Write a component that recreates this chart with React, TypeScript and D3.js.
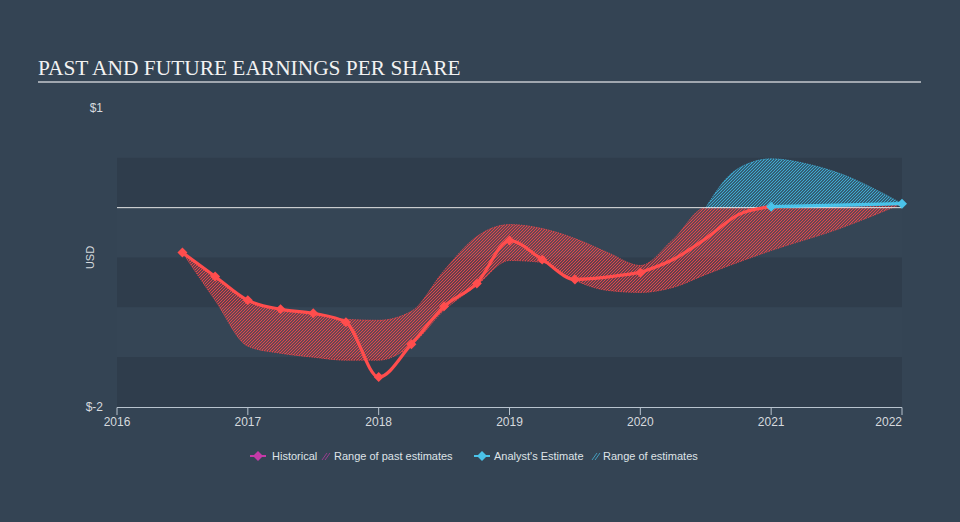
import React from "react";
import * as d3 from "d3";

const histYears = [2016.5, 2016.75, 2017.0, 2017.25, 2017.5, 2017.75, 2018.0, 2018.25, 2018.5, 2018.75, 2019.0, 2019.25, 2019.5, 2020.0];
const histEps = [-0.45, -0.69, -0.93, -1.02, -1.06, -1.15, -1.7, -1.37, -0.99, -0.76, -0.33, -0.52, -0.72, -0.65];

const bridgeYears = [2020.0, 2020.25, 2020.5, 2020.75, 2021.0];
const bridgeEps = [-0.65, -0.52, -0.31, -0.07, 0.01];

const estYears = [2021.0, 2022.0];
const estEps = [0.01, 0.04];

const pastRangeYears = [2016.5, 2016.75, 2017.0, 2017.25, 2017.5, 2017.75, 2018.0, 2018.25, 2018.5, 2018.75, 2019.0, 2019.25, 2019.5, 2019.75, 2020.0, 2020.25, 2020.5, 2021.0, 2021.5, 2022.0];
const pastRangeHigh = [-0.45, -0.69, -0.93, -1.02, -1.06, -1.12, -1.13, -1.04, -0.63, -0.29, -0.17, -0.21, -0.31, -0.45, -0.58, -0.32, 0.0, 0.0, 0.01, 0.04];
const pastRangeLow = [-0.45, -0.93, -1.39, -1.46, -1.5, -1.53, -1.53, -1.38, -1.03, -0.78, -0.53, -0.55, -0.73, -0.83, -0.85, -0.8, -0.67, -0.43, -0.22, 0.04];

const estRangeYears = [2020.5, 2020.67, 2020.84, 2021.0, 2021.3, 2021.55, 2021.8, 2022.0];
const estRangeHigh = [0.0, 0.31, 0.45, 0.49, 0.43, 0.33, 0.18, 0.04];
const estRangeLow = [0.0, 0.0, 0.0, 0.0, 0.0, 0.01, 0.02, 0.04];

const xTicks = [2016, 2017, 2018, 2019, 2020, 2021, 2022];
const yLabels = [
  { v: 1, t: "$1" },
  { v: -2, t: "$-2" },
];
const bandEdges = [0.5, 0, -0.5, -1, -1.5, -2];

const BG = "#344454";
const RED = "#ff4d4d";
const HATCH_RED = "#e9474b";
const BLUE = "#4ac3ea";
const HATCH_BLUE = "#3fb0d8";
const MAGENTA = "#c53aa8";

export default function App() {
  const x = d3.scaleLinear().domain([2016, 2022]).range([117, 902]);
  const y = d3.scaleLinear().domain([-2, 1]).range([407, 108]);

  const line = d3
    .line<[number, number]>()
    .x((d) => x(d[0]))
    .y((d) => y(d[1]))
    .curve(d3.curveMonotoneX);

  const area = d3
    .area<[number, number, number]>()
    .x((d) => x(d[0]))
    .y0((d) => y(d[2]))
    .y1((d) => y(d[1]))
    .curve(d3.curveMonotoneX);

  const histPts: [number, number][] = histYears.map((t, i) => [t, histEps[i]]);
  const bridgePts: [number, number][] = bridgeYears.map((t, i) => [t, bridgeEps[i]]);
  const estPts: [number, number][] = estYears.map((t, i) => [t, estEps[i]]);
  const pastArea: [number, number, number][] = pastRangeYears.map((t, i) => [t, pastRangeHigh[i], pastRangeLow[i]]);
  const estArea: [number, number, number][] = estRangeYears.map((t, i) => [t, estRangeHigh[i], estRangeLow[i]]);

  const diamond = (cx: number, cy: number, r: number) =>
    `M${cx},${cy - r}L${cx + r},${cy}L${cx},${cy + r}L${cx - r},${cy}Z`;

  const bands = [] as { y0: number; y1: number; dark: boolean }[];
  for (let i = 0; i < bandEdges.length - 1; i++) {
    bands.push({ y0: y(bandEdges[i]), y1: y(bandEdges[i + 1]), dark: i % 2 === 0 });
  }

  return (
    <svg
      width={960}
      height={522}
      style={{ position: "absolute", left: 0, top: 0, display: "block" }}
      fontFamily="'Liberation Sans', Arial, sans-serif"
    >
      <defs>
        <pattern id="hatchRed" patternUnits="userSpaceOnUse" width={3} height={3}>
          <path d="M-1,1 l2,-2 M0,3 l3,-3 M2,4 l2,-2" stroke={HATCH_RED} strokeWidth={1.1} />
        </pattern>
        <pattern id="hatchBlue" patternUnits="userSpaceOnUse" width={3} height={3}>
          <path d="M-1,1 l2,-2 M0,3 l3,-3 M2,4 l2,-2" stroke={HATCH_BLUE} strokeWidth={1.1} />
        </pattern>
      </defs>
      <rect x={0} y={0} width={960} height={522} fill={BG} />
      <text x={38} y={75} fill="#f2f2f2" fontSize={21.4} fontFamily="'Liberation Serif', 'Times New Roman', serif">
        PAST AND FUTURE EARNINGS PER SHARE
      </text>
      <line x1={38} x2={921} y1={82} y2={82} stroke="#c4c9ce" strokeWidth={1.5} />

      {bands.map((b, i) => (
        <rect key={i} x={117} y={b.y0} width={902 - 117} height={b.y1 - b.y0} fill={b.dark ? "#2f3d4c" : "#354555"} />
      ))}

      {yLabels.map((l) => (
        <text key={l.t} x={103} y={y(l.v) + 4} textAnchor="end" fill="#d6dade" fontSize={12}>
          {l.t}
        </text>
      ))}
      <text
        transform={`translate(94,${y(-0.5)}) rotate(-90)`}
        textAnchor="middle"
        fill="#d6dade"
        fontSize={11}
      >
        USD
      </text>

      <path d={area(pastArea) || ""} fill="url(#hatchRed)" stroke={HATCH_RED} strokeWidth={0.8} strokeDasharray="1.5,1" />
      <path d={area(estArea) || ""} fill="url(#hatchBlue)" stroke={HATCH_BLUE} strokeWidth={0.8} strokeDasharray="1.5,1" />

      <line x1={117} x2={902} y1={y(0)} y2={y(0)} stroke="#e6e6e6" strokeWidth={1} />

      <path d={line(histPts) || ""} fill="none" stroke={RED} strokeWidth={3.2} strokeLinejoin="round" />
      <path d={line(bridgePts) || ""} fill="none" stroke={RED} strokeWidth={3.2} />
      <path d={line(estPts) || ""} fill="none" stroke={BLUE} strokeWidth={3.2} />
      {histPts.map((p, i) => (
        <path key={i} d={diamond(x(p[0]), y(p[1]), 5)} fill={RED} />
      ))}
      {estPts.map((p, i) => (
        <path key={i} d={diamond(x(p[0]), y(p[1]), 5)} fill={BLUE} />
      ))}

      <line x1={117} x2={902} y1={407.5} y2={407.5} stroke="#b8c3ce" strokeWidth={1} />
      {xTicks.map((t, i) => (
        <g key={t}>
          <line x1={x(t)} x2={x(t)} y1={407.5} y2={415} stroke="#b8c3ce" strokeWidth={1} />
          <text
            x={x(t)}
            y={426}
            textAnchor={i === xTicks.length - 1 ? "end" : "middle"}
            fill="#d6dade"
            fontSize={12}
          >
            {t}
          </text>
        </g>
      ))}

      <g fontSize={11} fill="#dfe3e7">
        <line x1={250} x2={266} y1={456} y2={456} stroke={MAGENTA} strokeWidth={2} />
        <path d={diamond(258, 456, 5)} fill={MAGENTA} />
        <text x={272} y={460}>Historical</text>
        <path d="M322,460 l5,-7 M325,460 l5,-7" stroke={MAGENTA} strokeWidth={1} opacity={0.7} />
        <text x={334} y={460}>Range of past estimates</text>

        <line x1={474} x2={490} y1={456} y2={456} stroke={BLUE} strokeWidth={2} />
        <path d={diamond(482, 456, 5)} fill={BLUE} />
        <text x={494} y={460}>Analyst's Estimate</text>
        <path d="M592,460 l5,-7 M595,460 l5,-7" stroke={BLUE} strokeWidth={1} opacity={0.7} />
        <text x={603} y={460}>Range of estimates</text>
      </g>
    </svg>
  );
}
